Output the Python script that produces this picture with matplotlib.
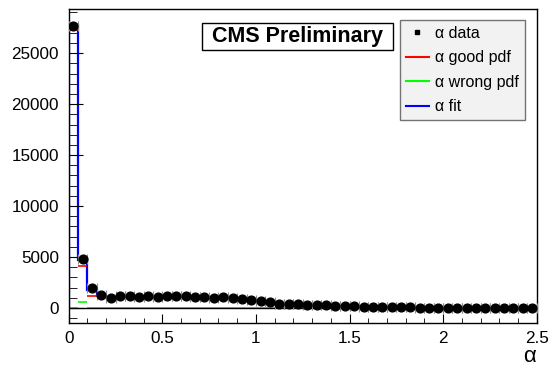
import numpy as np
import matplotlib
matplotlib.use("Agg")
import matplotlib.pyplot as plt
from matplotlib.lines import Line2D
from matplotlib.patches import Rectangle

plt.rcParams['font.family'] = ['Liberation Sans', 'DejaVu Sans']

# 50 bins of width 0.05 on [0, 2.5]
bin_edges = np.linspace(0, 2.5, 51)

data_counts = [27650, 4800, 1980, 1320, 1000, 1150, 1150, 1070, 1150, 1070,
               1130, 1160, 1150, 1080, 1070, 1010, 1060, 1000, 900, 820,
               730, 580, 430, 440, 360, 340, 290, 280, 230, 220,
               150, 130, 120, 80, 70, 70, 60, 40, 30, 30,
               25, 25, 20, 20, 20, 15, 15, 15, 10, 10]

fit_counts = [27800, 4700, 1780, 1200, 1080, 1110, 1120, 1110, 1110, 1100,
              1110, 1120, 1120, 1100, 1080, 1050, 1030, 990, 920, 820,
              720, 600, 500, 440, 380, 330, 290, 260, 220, 200,
              160, 140, 120, 90, 80, 70, 60, 50, 40, 35,
              30, 28, 25, 22, 20, 18, 16, 14, 12, 10]

good_pdf = [27230, 4140, 1200, 1190, 1070, 1100, 1110, 1100, 1100, 1090,
            1100, 1110, 1110, 1090, 1070, 1040, 1020, 980, 910, 810,
            710, 590, 490, 430, 370, 320, 280, 250, 210, 190,
            150, 130, 110, 80, 70, 60, 50, 40, 30, 25,
            20, 18, 15, 12, 10, 8, 6, 4, 2, 0]

wrong_pdf = [0, 560, 0, 0, 0, 0, 0, 0, 0, 0,
             0, 0, 0, 0, 0, 0, 0, 0, 0, 0,
             0, 0, 0, 0, 0, 0, 0, 0, 0, 0,
             0, 0, 0, 0, 0, 0, 0, 0, 0, 0,
             0, 0, 0, 0, 0, 0, 0, 0, 0, 0]

centers = 0.5 * (bin_edges[:-1] + bin_edges[1:])
W, H = 552, 371

fig = plt.figure(figsize=(W / 100, H / 100), dpi=100)
ax = fig.add_axes([68.7 / W, 1 - 323 / H, (536.7 - 68.7) / W, (323 - 9.3) / H])

ax.hlines(wrong_pdf, bin_edges[:-1], bin_edges[1:], color='#00ff00', lw=1.2)
ax.hlines(good_pdf, bin_edges[:-1], bin_edges[1:], color='#ff0000', lw=1.2)
ax.axhline(0, color='black', lw=1.0)
ax.stairs(fit_counts, bin_edges, color='#0000ff', lw=1.6)
ax.errorbar(centers, data_counts, xerr=0.025, yerr=np.sqrt(data_counts),
            fmt='o', color='black', ms=6.3, ecolor='0.55', elinewidth=0.8,
            capsize=3.5, capthick=0.8, zorder=5)

ax.set_xlim(0, 2.5)
ax.set_ylim(-1470, 29300)
ax.set_xticks([0, 0.5, 1, 1.5, 2, 2.5])
ax.set_xticklabels(['0', '0.5', '1', '1.5', '2', '2.5'])
ax.set_xticks(np.arange(0, 2.51, 0.1), minor=True)
ax.set_yticks(np.arange(0, 25001, 5000))
ax.set_yticks(np.arange(-1000, 29001, 1000), minor=True)
ax.tick_params(axis='both', which='both', direction='in', labelsize=12.3,
               top=False, right=False)
ax.tick_params(axis='y', which='major', length=10, pad=7)
ax.tick_params(axis='y', which='minor', length=5.8)
ax.tick_params(axis='x', which='major', length=6.7, pad=6)
ax.tick_params(axis='x', which='minor', length=3.6)
for s in ax.spines.values():
    s.set_linewidth(1.0)

fig.text(536 / W, 1 - 356 / H, 'α', fontsize=16, ha='right', va='center')

# CMS Preliminary box
fig.patches.append(Rectangle((202 / W, 1 - 50 / H), (393 - 202) / W, 27 / H,
                             transform=fig.transFigure, facecolor='white',
                             edgecolor='black', lw=1.0, zorder=10))
fig.text(297.5 / W, 1 - 36.5 / H, 'CMS Preliminary', fontsize=15.5,
         fontweight='bold', ha='center', va='center', zorder=11)

# legend
handles = [Line2D([], [], ls='none', marker='s', color='black', ms=3.5),
           Line2D([], [], color='#ff0000', lw=1.5),
           Line2D([], [], color='#00ff00', lw=1.5),
           Line2D([], [], color='#0000ff', lw=1.5)]
labels = ['α data', 'α good pdf', 'α wrong pdf', 'α fit']
leg = fig.legend(handles, labels, loc='upper left',
                 bbox_to_anchor=(400 / W, 1 - 20 / H), fontsize=11.5,
                 frameon=True, fancybox=False, facecolor='#f2f2f2',
                 edgecolor='0.45', framealpha=1, handlelength=1.45,
                 handletextpad=0.4, labelspacing=0.6, borderpad=0.35,
                 borderaxespad=0)
leg.get_frame().set_linewidth(1.0)

fig.savefig('out.png', dpi=100)
